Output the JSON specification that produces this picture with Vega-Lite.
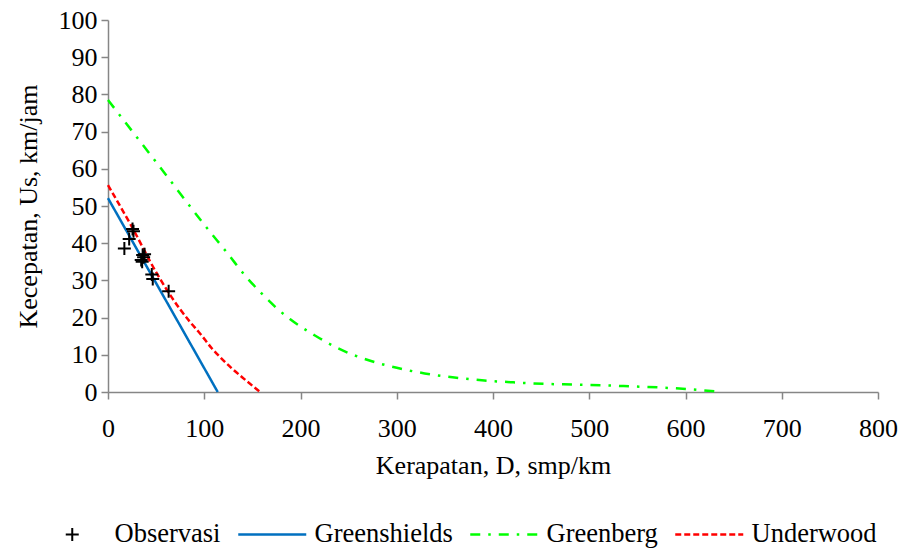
{
  "$schema": "https://vega.github.io/schema/vega-lite/v6.json",
  "width": 770,
  "height": 372,
  "autosize": {"type": "none"},
  "padding": {"left": 108, "top": 20, "right": 24, "bottom": 156},
  "background": "white",
  "config": {
    "view": {"stroke": null},
    "font": "'Liberation Serif', 'DejaVu Serif', serif",
    "axis": {
      "domainColor": "#868686",
      "domainWidth": 1.5,
      "tickColor": "#868686",
      "tickWidth": 1.5,
      "tickSize": 7,
      "grid": false,
      "labelFont": "'Liberation Serif', 'DejaVu Serif', serif",
      "labelFontSize": 26,
      "labelColor": "black",
      "titleFont": "'Liberation Serif', 'DejaVu Serif', serif",
      "titleFontSize": 26,
      "titleFontWeight": "normal",
      "titleColor": "black"
    }
  },
  "data": {
    "values": [
      {"series": "Greenshields", "D": 0, "Us": 52.1},
      {"series": "Greenshields", "D": 114, "Us": 0},
      {"series": "Underwood", "D": 0, "Us": 55.6},
      {"series": "Underwood", "D": 25, "Us": 44.3},
      {"series": "Underwood", "D": 50, "Us": 32.2},
      {"series": "Underwood", "D": 75, "Us": 22.2},
      {"series": "Underwood", "D": 85, "Us": 18.9},
      {"series": "Underwood", "D": 96, "Us": 15.6},
      {"series": "Underwood", "D": 108, "Us": 11.7},
      {"series": "Underwood", "D": 116, "Us": 9.5},
      {"series": "Underwood", "D": 128, "Us": 6.5},
      {"series": "Underwood", "D": 142, "Us": 3.4},
      {"series": "Underwood", "D": 158, "Us": 0},
      {"series": "Greenberg", "D": 0, "Us": 78.5},
      {"series": "Greenberg", "D": 50, "Us": 61.8},
      {"series": "Greenberg", "D": 100, "Us": 45.0},
      {"series": "Greenberg", "D": 125, "Us": 37.0},
      {"series": "Greenberg", "D": 144, "Us": 30.8},
      {"series": "Greenberg", "D": 160, "Us": 26.4},
      {"series": "Greenberg", "D": 175, "Us": 22.6},
      {"series": "Greenberg", "D": 189, "Us": 19.6},
      {"series": "Greenberg", "D": 215, "Us": 15.2},
      {"series": "Greenberg", "D": 241, "Us": 11.5},
      {"series": "Greenberg", "D": 270, "Us": 8.6},
      {"series": "Greenberg", "D": 300, "Us": 6.5},
      {"series": "Greenberg", "D": 329, "Us": 5.0},
      {"series": "Greenberg", "D": 360, "Us": 3.9},
      {"series": "Greenberg", "D": 391, "Us": 3.1},
      {"series": "Greenberg", "D": 421, "Us": 2.6},
      {"series": "Greenberg", "D": 452, "Us": 2.2},
      {"series": "Greenberg", "D": 483, "Us": 2.0},
      {"series": "Greenberg", "D": 514, "Us": 1.8},
      {"series": "Greenberg", "D": 545, "Us": 1.5},
      {"series": "Greenberg", "D": 575, "Us": 1.2},
      {"series": "Greenberg", "D": 606, "Us": 0.7},
      {"series": "Greenberg", "D": 637, "Us": 0},
      {"series": "Observasi", "D": 17, "Us": 38.6},
      {"series": "Observasi", "D": 22, "Us": 41.1},
      {"series": "Observasi", "D": 25.5, "Us": 43.8},
      {"series": "Observasi", "D": 26.5, "Us": 43.2},
      {"series": "Observasi", "D": 34.5, "Us": 35.5},
      {"series": "Observasi", "D": 36, "Us": 36.8},
      {"series": "Observasi", "D": 37, "Us": 36.2},
      {"series": "Observasi", "D": 35.5, "Us": 35.0},
      {"series": "Observasi", "D": 38, "Us": 37.0},
      {"series": "Observasi", "D": 45.5, "Us": 31.6},
      {"series": "Observasi", "D": 46.5, "Us": 30.4},
      {"series": "Observasi", "D": 63, "Us": 27.1}
    ]
  },
  "encoding": {
    "x": {
      "field": "D",
      "type": "quantitative",
      "scale": {"domain": [0, 800], "nice": false},
      "axis": {"values": [0, 100, 200, 300, 400, 500, 600, 700, 800], "title": "Kerapatan, D, smp/km", "labelPadding": 16, "titlePadding": 11, "labelFlush": false}
    },
    "y": {
      "field": "Us",
      "type": "quantitative",
      "scale": {"domain": [0, 100], "nice": false},
      "axis": {"values": [0, 10, 20, 30, 40, 50, 60, 70, 80, 90, 100], "title": "Kecepatan, Us, km/jam", "labelPadding": 4, "titlePadding": 17, "labelFlush": false}
    },
    "color": {
      "field": "series",
      "type": "nominal",
      "scale": {"domain": ["Observasi", "Greenshields", "Greenberg", "Underwood"], "range": ["black", "#0070C0", "#00FF00", "#FF0000"]},
      "legend": {
        "orient": "none",
        "legendX": -49,
        "legendY": 501,
        "direction": "horizontal",
        "title": null,
        "symbolType": "stroke",
        "symbolSize": 4624,
        "symbolStrokeWidth": 2.5,
        "labelFont": "'Liberation Serif', 'DejaVu Serif', serif",
        "labelFontSize": 26.5,
        "labelColor": "black",
        "labelOffset": 29,
        "columnPadding": 12,
        "labelLimit": 300,
        "encode": {
          "symbols": {
            "update": {
              "shape": {"signal": "datum.value === 'Observasi' ? 'M-1,0H1M0,-1V1' : 'stroke'"},
              "size": {"signal": "datum.value === 'Observasi' ? 169 : 4624"},
              "strokeDash": {"signal": "datum.value === 'Greenberg' ? [10, 8, 2.5, 8] : datum.value === 'Underwood' ? [6, 3] : [1, 0]"},
              "fill": {"value": "transparent"},
              "strokeWidth": {"signal": "datum.value === 'Observasi' ? 2 : 2.5"}
            }
          }
        }
      }
    }
  },
  "layer": [
    {
      "transform": [{"filter": "datum.series !== 'Observasi'"}],
      "mark": {"type": "line", "strokeWidth": 2.5, "interpolate": "monotone"},
      "encoding": {
        "strokeDash": {
          "field": "series",
          "type": "nominal",
          "scale": {"domain": ["Greenshields", "Greenberg", "Underwood"], "range": [[1, 0], [10, 8, 2.5, 8], [6, 3]]},
          "legend": null
        }
      }
    },
    {
      "transform": [{"filter": "datum.series === 'Observasi'"}],
      "mark": {"type": "point", "shape": "M-1,0H1M0,-1V1", "size": 169, "strokeWidth": 2, "filled": false, "opacity": 1}
    }
  ]
}
